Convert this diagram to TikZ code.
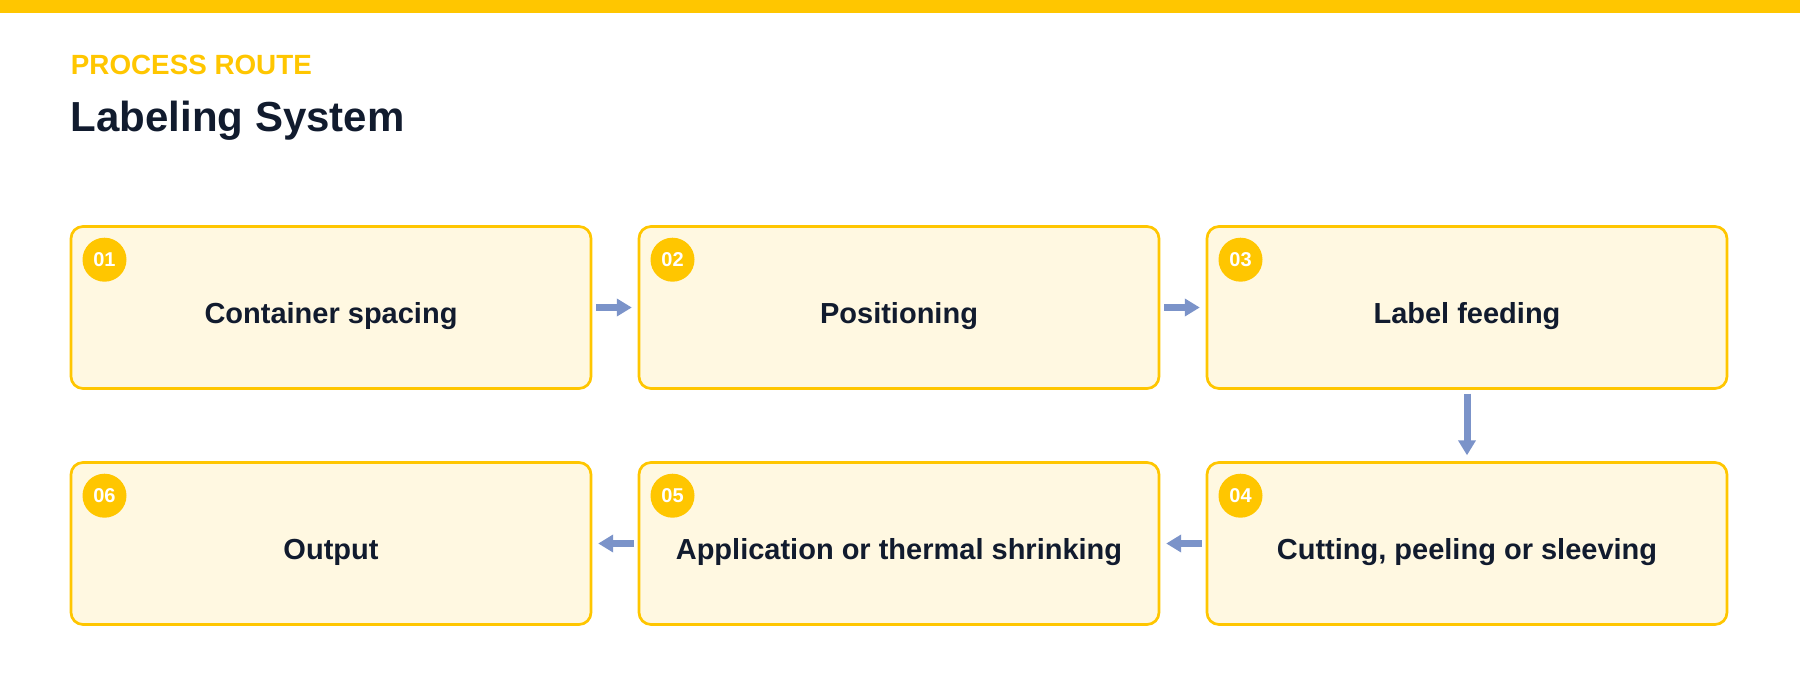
\documentclass[tikz,border=0pt]{standalone}
\usepackage{fontspec}
\setmainfont{Liberation Sans}
\usetikzlibrary{arrows.meta}
\definecolor{gold}{HTML}{FFC600}
\definecolor{cream}{HTML}{FFF8E1}
\definecolor{ink}{HTML}{111B2E}
\definecolor{arrowblue}{HTML}{7B93C9}
\tikzset{
  stepbox/.style={draw=gold, fill=cream, line width=1.35pt, rounded corners=6pt,
    minimum width=260pt, minimum height=81pt, inner sep=0pt, outer sep=0pt},
  badge/.style={circle, fill=gold, minimum size=22pt, inner sep=0pt,
    text=white, font=\bfseries\fontsize{10}{12}\selectfont},
  lbl/.style={anchor=base, inner sep=0pt, text=ink,
    font=\bfseries\fontsize{14.5}{17}\selectfont},
  arr/.style={draw=arrowblue, line width=3.5pt,
    -{Triangle[length=7.5pt,width=8.5pt]}, shorten <=2.6pt, shorten >=3.6pt}
}
\begin{document}
\begin{tikzpicture}[x=0.5pt,y=-0.5pt]
\useasboundingbox (0,0) rectangle (1800,680);
\fill[gold] (0,0) rectangle (1800,13);
\node[anchor=base west, inner sep=0pt, text=gold, font=\bfseries\fontsize{13.9}{16}\selectfont] (kicker) at (70.5,74) {PROCESS ROUTE};
\node[anchor=base west, inner sep=0pt, text=ink, font=\bfseries\fontsize{21}{25}\selectfont] (title) at (70.5,131.7) {Labeling System};
% boxes
\node[stepbox] (b1) at (331,307.5) {};
\node[stepbox] (b2) at (899,307.5) {};
\node[stepbox] (b3) at (1467,307.5) {};
\node[stepbox] (b4) at (1467,543.5) {};
\node[stepbox] (b5) at (899,543.5) {};
\node[stepbox] (b6) at (331,543.5) {};
% labels
\node[lbl] (t1) at ([yshift=-7.75pt]b1.center) {Container spacing};
\node[lbl] (t2) at ([yshift=-7.75pt]b2.center) {Positioning};
\node[lbl] (t3) at ([yshift=-7.75pt]b3.center) {Label feeding};
\node[lbl] (t4) at ([yshift=-7.75pt]b4.center) {Cutting, peeling or sleeving};
\node[lbl] (t5) at ([yshift=-7.75pt]b5.center) {Application or thermal shrinking};
\node[lbl] (t6) at ([yshift=-7.75pt]b6.center) {Output};
% badges
\node[badge] (n1) at ([xshift=16.75pt,yshift=-16.6pt]b1.north west) {01};
\node[badge] (n2) at ([xshift=16.75pt,yshift=-16.6pt]b2.north west) {02};
\node[badge] (n3) at ([xshift=16.75pt,yshift=-16.6pt]b3.north west) {03};
\node[badge] (n4) at ([xshift=16.75pt,yshift=-16.6pt]b4.north west) {04};
\node[badge] (n5) at ([xshift=16.75pt,yshift=-16.6pt]b5.north west) {05};
\node[badge] (n6) at ([xshift=16.75pt,yshift=-16.6pt]b6.north west) {06};
% connectors
\draw[arr] (b1) -- (b2);
\draw[arr] (b2) -- (b3);
\draw[arr] (b3) -- (b4);
\draw[arr] (b4) -- (b5);
\draw[arr] (b5) -- (b6);
\end{tikzpicture}
\end{document}
